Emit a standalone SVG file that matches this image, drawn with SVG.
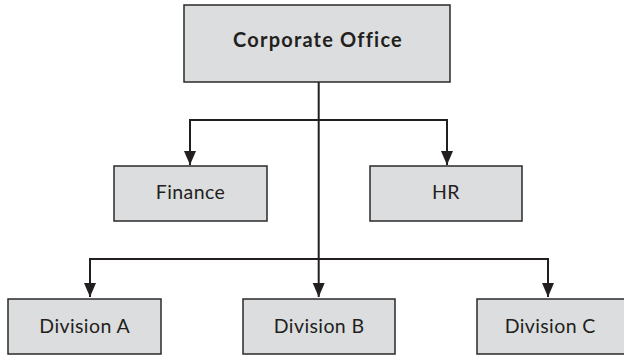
<svg xmlns="http://www.w3.org/2000/svg" width="624" height="355" viewBox="0 0 624 355">
<style>
.box{fill:#dcdddf;stroke:#2a2a2a;stroke-width:1.5}
.lbl{font-family:Lato,"Open Sans","Liberation Sans",sans-serif;font-size:19.5px;letter-spacing:0.4px;fill:#231f20;text-anchor:middle}
.title{font-weight:bold;font-size:20px;letter-spacing:1.2px}
.conn{fill:none;stroke:#231f20;stroke-width:2}
</style>
<defs>
<marker id="arr" markerUnits="userSpaceOnUse" markerWidth="14" markerHeight="14" viewBox="0 0 14 12" refX="14" refY="6" orient="auto">
<path d="M0,0 L14,6 L0,12 Z" fill="#231f20"/>
</marker>
</defs>
<rect width="624" height="355" fill="#ffffff"/>
<g id="connectors">
<path class="conn" d="M318.7,82 V297" marker-end="url(#arr)"/>
<path class="conn" d="M190,120 H447"/>
<path class="conn" d="M190,119 V165" marker-end="url(#arr)"/>
<path class="conn" d="M447,119 V165" marker-end="url(#arr)"/>
<path class="conn" d="M90,259 H548"/>
<path class="conn" d="M90,258 V297" marker-end="url(#arr)"/>
<path class="conn" d="M548,258 V297" marker-end="url(#arr)"/>
</g>
<g id="corporate">
<rect class="box" x="184" y="5" width="266" height="77"/>
<text class="lbl title" x="318" y="47">Corporate Office</text>
</g>
<g id="finance">
<rect class="box" x="114" y="166" width="153" height="55"/>
<text class="lbl" x="190.5" y="199">Finance</text>
</g>
<g id="hr">
<rect class="box" x="370" y="166" width="152" height="55"/>
<text class="lbl" x="446" y="199">HR</text>
</g>
<g id="divA">
<rect class="box" x="8" y="299" width="153" height="55"/>
<text class="lbl" x="84.7" y="332.5">Division A</text>
</g>
<g id="divB">
<rect class="box" x="243" y="299" width="152" height="55"/>
<text class="lbl" x="319.2" y="332.5">Division B</text>
</g>
<g id="divC">
<rect class="box" x="477" y="299" width="150" height="55"/>
<text class="lbl" x="550.2" y="332.5">Division C</text>
</g>
</svg>
